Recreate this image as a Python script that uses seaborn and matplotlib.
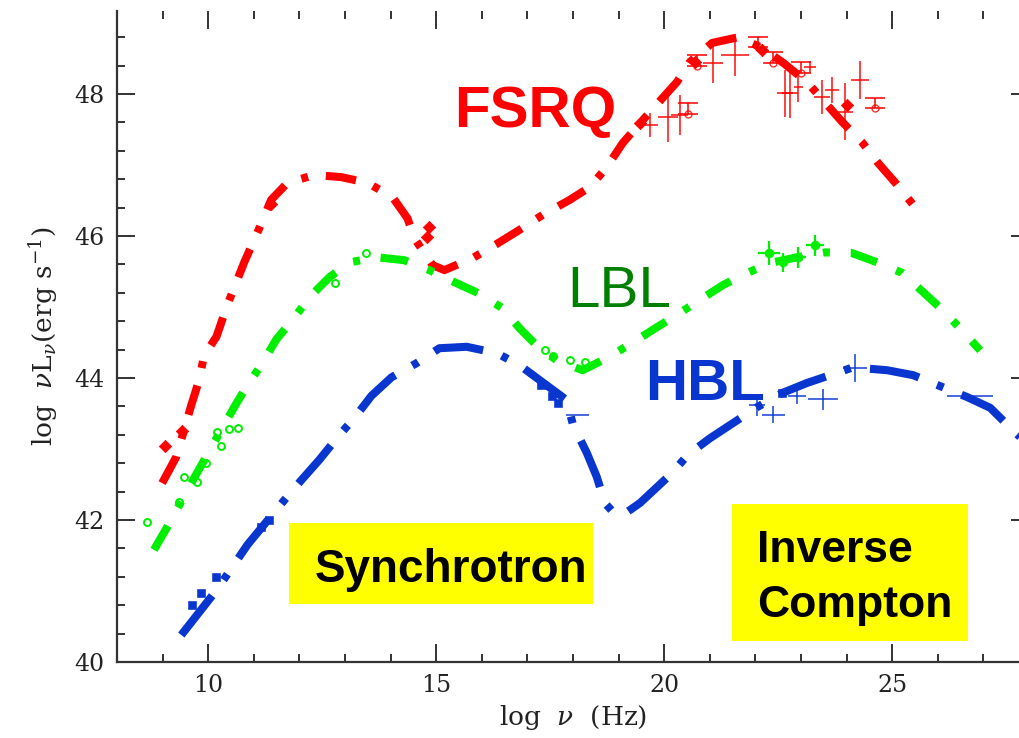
import matplotlib
matplotlib.use("Agg")
import matplotlib.pyplot as plt
from matplotlib.ticker import MultipleLocator
from matplotlib.patches import Rectangle
import seaborn as sns
import pandas as pd

# ---- model SED curves (log nu, log nuL_nu) ----
fsrq_x = [8.99, 9.30, 9.63, 9.80, 9.91, 10.18, 10.42, 10.79, 11.12, 11.38, 11.74, 12.33,
          12.92, 13.49, 14.04, 14.37, 14.52, 14.92, 15.18, 15.80, 16.33, 16.81, 17.34,
          17.93, 18.37, 18.74, 19.09, 19.47, 19.86, 20.28, 20.56, 21.05, 21.62, 22.15,
          22.61, 23.13, 23.90, 24.34, 24.69, 25.07, 25.46]
fsrq_y = [42.52, 42.89, 43.62, 43.97, 44.32, 44.58, 45.03, 45.63, 46.11, 46.51, 46.75, 46.86,
          46.83, 46.75, 46.55, 46.25, 45.97, 45.59, 45.52, 45.69, 45.89, 46.08, 46.30,
          46.51, 46.69, 46.97, 47.31, 47.59, 47.87, 48.17, 48.45, 48.72, 48.80, 48.65,
          48.44, 48.17, 47.61, 47.32, 47.03, 46.75, 46.44]

lbl_x = [8.81, 9.10, 9.69, 9.98, 10.57, 10.86, 11.16, 11.49, 11.89, 12.22, 12.66, 13.10,
         13.71, 14.30, 14.85, 15.40, 15.91, 16.44, 16.83, 17.20, 17.64, 18.21, 18.74,
         19.29, 19.80, 20.28, 20.78, 21.29, 21.82, 22.32, 22.91, 23.53, 24.12, 24.67,
         25.22, 25.68, 26.10, 26.49, 26.93]
lbl_y = [41.58, 41.90, 42.59, 42.92, 43.59, 43.90, 44.18, 44.54, 44.85, 45.14, 45.42, 45.63,
         45.70, 45.66, 45.52, 45.35, 45.20, 44.99, 44.70, 44.46, 44.25, 44.11, 44.28,
         44.49, 44.70, 44.89, 45.10, 45.31, 45.48, 45.62, 45.70, 45.77, 45.76, 45.63,
         45.48, 45.21, 44.96, 44.70, 44.39]

hbl_x = [9.41, 10.18, 10.51, 10.86, 11.63, 12.04, 12.44, 12.88, 13.21, 13.58, 14.02, 14.57,
         15.07, 15.67, 16.33, 16.83, 17.27, 17.86, 18.00, 18.30, 18.52, 18.70, 18.92,
         19.18, 19.47, 20.17, 20.52, 21.00, 22.04, 22.59, 23.13, 24.14, 24.89, 25.46,
         26.65, 27.15, 27.59, 28.0]
hbl_y = [40.38, 41.01, 41.32, 41.65, 42.25, 42.56, 42.85, 43.20, 43.44, 43.75, 44.01, 44.21,
         44.42, 44.44, 44.35, 44.18, 43.97, 43.69, 43.34, 42.95, 42.61, 42.24, 42.08,
         42.11, 42.24, 42.66, 42.92, 43.15, 43.59, 43.79, 43.93, 44.15, 44.11, 44.04,
         43.73, 43.58, 43.30, 43.05]

# ---- observed points ----
fsrq_gx = [19.69, 20.08, 20.34, 21.07, 21.55, 22.65, 22.76, 22.94, 23.20, 23.46, 23.68, 23.97, 24.30]
fsrq_gy = [47.56, 47.68, 47.70, 48.44, 48.55, 48.01, 48.01, 48.10, 48.38, 47.96, 48.06, 47.75, 48.20]
fsrq_gyerr = [0.17, 0.35, 0.28, 0.28, 0.30, 0.33, 0.35, 0.21, 0.09, 0.24, 0.18, 0.40, 0.27]
fsrq_gxerr = [0.18, 0.22, 0.18, 0.22, 0.31, 0.18, 0.18, 0.10, 0.13, 0.18, 0.15, 0.18, 0.20]
fsrq_ulx = [20.52, 20.72, 22.06, 22.39, 23.0, 24.63]
fsrq_uly = [47.72, 48.40, 48.66, 48.44, 48.30, 47.80]
fsrq_dx = [9.06, 9.43, 11.38, 14.79, 14.85, 19.47, 20.67, 22.15, 24.0]
fsrq_dy = [43.04, 43.25, 46.45, 45.99, 46.13, 47.59, 48.45, 48.62, 47.85]

lbl_gx = [22.30, 22.61, 22.94, 23.31]
lbl_gy = [45.76, 45.63, 45.70, 45.87]
lbl_gyerr = [0.17, 0.13, 0.15, 0.15]
lbl_gxerr = [0.24, 0.15, 0.17, 0.20]
lbl_ox = [8.66, 9.36, 9.47, 9.76, 9.96, 10.20, 10.29, 10.46, 10.66, 12.77, 13.47,
          17.38, 17.56, 17.93, 18.26]
lbl_oy = [41.97, 42.25, 42.61, 42.54, 42.80, 43.24, 43.04, 43.28, 43.30, 45.34, 45.76,
          44.39, 44.31, 44.25, 44.23]

hbl_gx = [22.04, 22.39, 22.91, 23.49, 24.19, 26.71, 18.10]
hbl_gy = [43.62, 43.48, 43.75, 43.70, 44.14, 43.75, 43.48]
hbl_gyerr = [0.15, 0.12, 0.12, 0.15, 0.20, 0.0, 0.0]
hbl_gxerr = [0.18, 0.25, 0.20, 0.33, 0.26, 0.50, 0.25]
hbl_dx = [9.65, 9.85, 10.18, 11.16, 11.34, 17.30, 17.55, 17.67, 22.59]
hbl_dy = [40.80, 40.97, 41.20, 41.90, 42.00, 43.90, 43.75, 43.65, 43.79]

RED, GREEN, BLUE = "#ff0000", "#00ee00", "#0a36d0"

sns.set_style("ticks")
plt.rcParams["font.family"] = ["DejaVu Serif"]
plt.rcParams["mathtext.fontset"] = "dejavuserif"
plt.rcParams["lines.scale_dashes"] = False

fig = plt.figure(figsize=(10.19, 7.38), dpi=100)
ax = fig.add_axes([117 / 1019, 76 / 738, (1029 - 117) / 1019, (662 - 11) / 738])

curves = [
    (fsrq_x, fsrq_y, RED, (0, (22, 13, 5, 13))),
    (lbl_x, lbl_y, GREEN, (0, (20, 15, 5, 15))),
    (hbl_x, hbl_y, BLUE, (0, (36, 14, 5, 14))),
]
for cx, cy, col, ls in curves:
    df = pd.DataFrame({"x": cx, "y": cy})
    sns.lineplot(data=df, x="x", y="y", sort=False, color=col, linewidth=5.8,
                 linestyle=ls, ax=ax, zorder=3)
for ln in ax.lines:
    ln.set_dash_capstyle("butt")

# gamma-ray / X-ray points with error crosses
ax.errorbar(fsrq_gx, fsrq_gy, yerr=fsrq_gyerr, xerr=fsrq_gxerr, fmt="none",
            ecolor=RED, elinewidth=1.4, alpha=0.75, zorder=4)
ax.errorbar(fsrq_ulx, fsrq_uly, yerr=[[0] * len(fsrq_ulx), [0.15] * len(fsrq_ulx)],
            fmt="o", ms=5, mfc="none", mec=RED, ecolor=RED, elinewidth=1.4,
            capsize=7, capthick=1.4, alpha=0.8, zorder=4)
sns.scatterplot(x=fsrq_dx, y=fsrq_dy, marker="D", s=40, color=RED, edgecolor=RED, ax=ax, zorder=4)

ax.errorbar(lbl_gx, lbl_gy, yerr=lbl_gyerr, xerr=lbl_gxerr, fmt="none",
            ecolor=GREEN, elinewidth=1.6, zorder=4)
sns.scatterplot(x=lbl_gx, y=lbl_gy, marker="o", s=40, color=GREEN, edgecolor=GREEN, ax=ax, zorder=4)
ax.plot(lbl_ox, lbl_oy, "o", ms=5, mfc="none", mec=GREEN, mew=1.4, zorder=4)

ax.errorbar(hbl_gx, hbl_gy, yerr=hbl_gyerr, xerr=hbl_gxerr, fmt="none",
            ecolor=BLUE, elinewidth=1.4, alpha=0.75, zorder=4)
sns.scatterplot(x=hbl_dx, y=hbl_dy, marker="s", s=30, color=BLUE, edgecolor=BLUE, ax=ax, zorder=4)

# axes frame
ax.set_xlim(8, 28)
ax.set_ylim(40, 49.17)
ax.spines["top"].set_visible(False)
for s in ("left", "bottom", "right"):
    ax.spines[s].set_linewidth(1.6)
    ax.spines[s].set_color("#333333")
ax.xaxis.set_major_locator(MultipleLocator(5))
ax.xaxis.set_minor_locator(MultipleLocator(1))
ax.yaxis.set_major_locator(MultipleLocator(2))
ax.yaxis.set_minor_locator(MultipleLocator(0.4))
ax.tick_params(which="both", direction="in", top=True, right=True, color="#333333",
               width=1.4, labelsize=17, labelcolor="#222222")
ax.tick_params(which="major", length=13, pad=9)
ax.tick_params(which="minor", length=6)
ax.set_xlabel(r"log  $\nu$  (Hz)", fontsize=19, color="#222222", labelpad=4)
ax.set_ylabel(r"log  $\nu$L$_\nu$(erg s$^{-1}$)", fontsize=19, color="#222222", labelpad=10)

# class labels
ax.text(15.40, 47.54, "FSRQ", color=RED, fontsize=42, fontweight="bold",
        family="Liberation Sans", ha="left", va="baseline", zorder=5)
ax.text(17.88, 45.0, "LBL", color="#008000", fontsize=42,
        family="Liberation Sans", ha="left", va="baseline", zorder=5)
ax.text(19.58, 43.69, "HBL", color=BLUE, fontsize=42, fontweight="bold",
        family="Liberation Sans", ha="left", va="baseline", zorder=5)

# emission-component boxes
ax.add_patch(Rectangle((11.78, 40.82), 18.43 - 11.78, 41.96 - 40.82,
                       facecolor="#ffff00", edgecolor="none", zorder=2))
ax.text(12.33, 41.13, "Synchrotron", fontsize=33, fontweight="bold", color="black",
        family="Liberation Sans", ha="left", va="baseline", zorder=5)
ax.add_patch(Rectangle((21.49, 40.30), 26.67 - 21.49, 42.23 - 40.30,
                       facecolor="#ffff00", edgecolor="none", zorder=2))
ax.text(22.04, 41.41, "Inverse", fontsize=32, fontweight="bold", color="black",
        family="Liberation Sans", ha="left", va="baseline", zorder=5)
ax.text(22.04, 40.63, "Compton", fontsize=32, fontweight="bold", color="black",
        family="Liberation Sans", ha="left", va="baseline", zorder=5)

fig.savefig("out.png", dpi=100)
